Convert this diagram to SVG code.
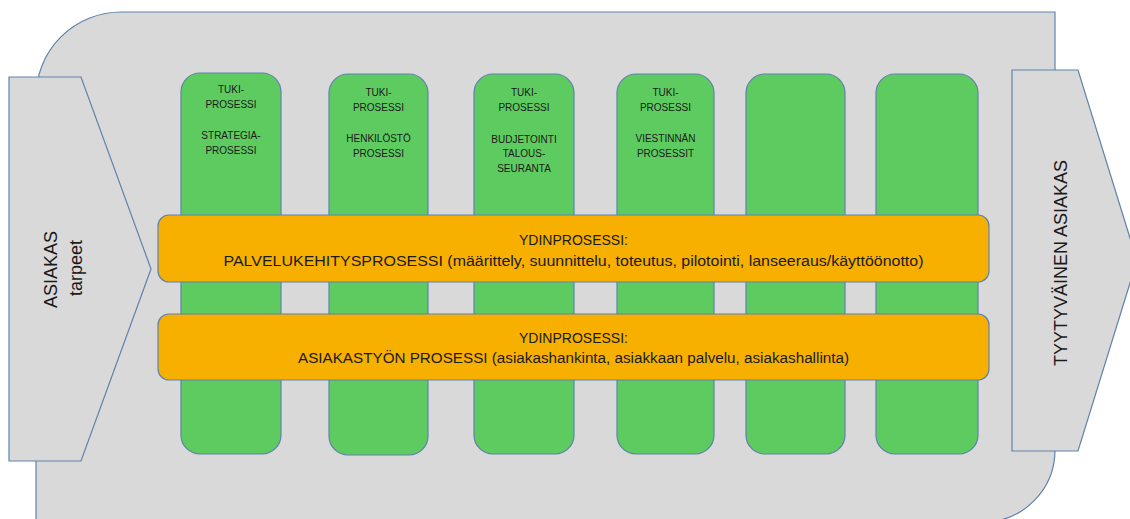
<svg xmlns="http://www.w3.org/2000/svg" width="1130" height="519" viewBox="0 0 1130 519">
  <style>
    .frame { fill: #D9D9D9; stroke: #5F83AC; stroke-width: 1.2; }
    .col { fill: #5ECB60; stroke: #5F83AC; stroke-width: 1.2; }
    .bar { fill: #F7AF00; stroke: #5F83AC; stroke-width: 1.2; }
    .small { font-family: "Liberation Sans", Arial, sans-serif; font-size: 10px; fill: #1A1A1A; text-anchor: middle; }
    .mid { font-family: "Liberation Sans", Arial, sans-serif; font-size: 14px; fill: #1A1A1A; text-anchor: middle; }
    .big { font-family: "Liberation Sans", Arial, sans-serif; font-size: 18px; fill: #1A1A1A; text-anchor: middle; }
  </style>

  <!-- background frame: rounded top-left and bottom-right corners -->
  <g id="frame">
    <path class="frame" d="M36,530 L36,97 A85,85 0 0 1 121,12 L1055,12 L1055,450 A72,72 0 0 1 983,522 L983,530 Z"/>
  </g>

  <!-- input chevron on the left -->
  <g id="asiakas-tarpeet">
    <polygon class="frame" points="9,77 81,77 151,269 81,461 9,461"/>
    <text class="big" transform="translate(57,269.5) rotate(-90)">ASIAKAS</text>
    <text class="big" transform="translate(82,268) rotate(-90)">tarpeet</text>
  </g>

  <!-- output chevron on the right -->
  <g id="tyytyvainen-asiakas">
    <polygon class="frame" points="1012,70 1078,70 1137,260.5 1078,451 1012,451"/>
    <text class="big" transform="translate(1067,263) rotate(-90)">TYYTYVÄINEN ASIAKAS</text>
  </g>

  <!-- support process columns -->
  <g id="tuki-strategia">
    <rect class="col" x="181" y="73" width="100" height="381" rx="19"/>
    <text class="small" x="231" y="93">TUKI-</text>
    <text class="small" x="231" y="108">PROSESSI</text>
    <text class="small" x="231" y="139">STRATEGIA-</text>
    <text class="small" x="231" y="154">PROSESSI</text>
  </g>
  <g id="tuki-henkilosto">
    <rect class="col" x="329" y="74" width="99" height="381" rx="19"/>
    <text class="small" x="378.5" y="96">TUKI-</text>
    <text class="small" x="378.5" y="111">PROSESSI</text>
    <text class="small" x="378.5" y="142">HENKILÖSTÖ</text>
    <text class="small" x="378.5" y="157">PROSESSI</text>
  </g>
  <g id="tuki-budjetointi">
    <rect class="col" x="474" y="74" width="100" height="380" rx="19"/>
    <text class="small" x="524" y="96">TUKI-</text>
    <text class="small" x="524" y="111">PROSESSI</text>
    <text class="small" x="524" y="143">BUDJETOINTI</text>
    <text class="small" x="524" y="157">TALOUS-</text>
    <text class="small" x="524" y="172">SEURANTA</text>
  </g>
  <g id="tuki-viestinta">
    <rect class="col" x="617" y="74" width="97" height="380" rx="19"/>
    <text class="small" x="665.5" y="96">TUKI-</text>
    <text class="small" x="665.5" y="111">PROSESSI</text>
    <text class="small" x="665.5" y="142">VIESTINNÄN</text>
    <text class="small" x="665.5" y="157">PROSESSIT</text>
  </g>
  <g id="tuki-5">
    <rect class="col" x="746" y="74" width="99" height="380" rx="19"/>
  </g>
  <g id="tuki-6">
    <rect class="col" x="876" y="74" width="102" height="380" rx="19"/>
  </g>

  <!-- core process bars -->
  <g id="ydin-palvelukehitys">
    <rect class="bar" x="158" y="215" width="831" height="67" rx="11"/>
    <text class="mid" x="573.5" y="245">YDINPROSESSI:</text>
    <text class="mid" x="573.5" y="266" textLength="700" lengthAdjust="spacingAndGlyphs">PALVELUKEHITYSPROSESSI (määrittely, suunnittelu, toteutus, pilotointi, lanseeraus/käyttöönotto)</text>
  </g>
  <g id="ydin-asiakastyo">
    <rect class="bar" x="158" y="314" width="831" height="66" rx="11"/>
    <text class="mid" x="573.5" y="343">YDINPROSESSI:</text>
    <text class="mid" x="573.5" y="363" textLength="551" lengthAdjust="spacingAndGlyphs">ASIAKASTYÖN PROSESSI (asiakashankinta, asiakkaan palvelu, asiakashallinta)</text>
  </g>

  <!-- no connectors in this diagram -->
  <g id="connectors"/>
</svg>
